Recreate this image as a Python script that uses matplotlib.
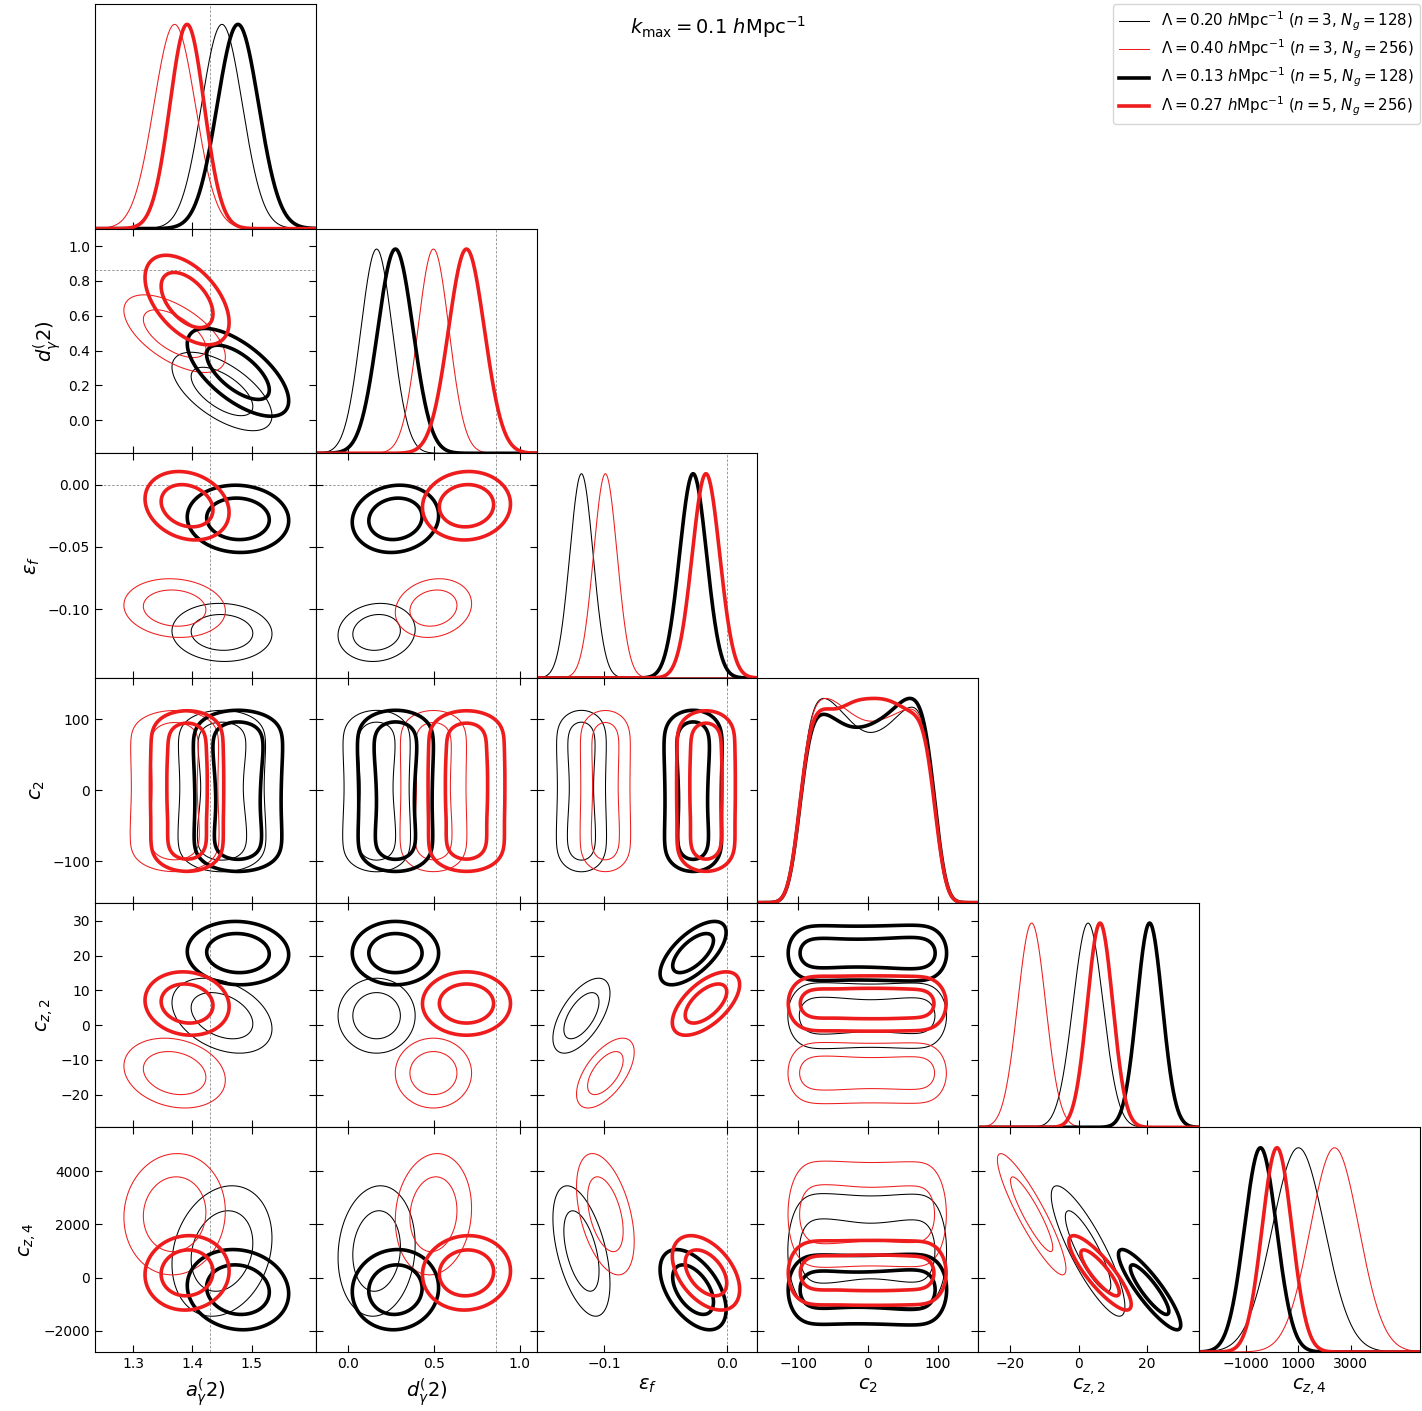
import numpy as np
import matplotlib
matplotlib.use("Agg")
import matplotlib.pyplot as plt

# --- Parameter (Reihenfolge der Achsen) ---
namen = ["a", "d", "eps", "c2", "cz2", "cz4"]
achsen_label = [r"$a_\gamma^(2)$", r"$d_\gamma^(2)$", r"$\varepsilon_f$",
                r"$c_2$", r"$c_{z,2}$", r"$c_{z,4}$"]
grenzen = [(1.2355, 1.6085), (-0.19, 1.10), (-0.155, 0.025),
           (-158, 158), (-29.4, 35.2), (-2790, 5640)]
x_ticks = [[1.3, 1.4, 1.5], [0.0, 0.5, 1.0], [-0.1, 0.0],
           [-100, 0, 100], [-20, 0, 20], [-1000, 1000, 3000]]
y_ticks = [None, [0.0, 0.2, 0.4, 0.6, 0.8, 1.0], [-0.10, -0.05, 0.00],
           [-100, 0, 100], [-20, -10, 0, 10, 20, 30], [-2000, 0, 2000, 4000]]
referenz = [1.43, 0.86, 0.0, None, None, None]

# --- Serien: duenn schwarz, duenn rot, dick schwarz, dick rot ---
serien_label = [
    r"$\Lambda = 0.20\ h\mathrm{Mpc}^{-1}$ ($n = 3$, $N_g = 128$)",
    r"$\Lambda = 0.40\ h\mathrm{Mpc}^{-1}$ ($n = 3$, $N_g = 256$)",
    r"$\Lambda = 0.13\ h\mathrm{Mpc}^{-1}$ ($n = 5$, $N_g = 128$)",
    r"$\Lambda = 0.27\ h\mathrm{Mpc}^{-1}$ ($n = 5$, $N_g = 256$)",
]
farben = ["black", "#ee1c1c", "black", "#ee1c1c"]
breiten = [0.75, 0.75, 2.6, 2.6]

# Mittelwerte und Breiten
mittel = {
    "a":   [1.450, 1.370, 1.477, 1.391],
    "d":   [0.165, 0.497, 0.275, 0.690],
    "eps": [-0.1185, -0.099, -0.0275, -0.017],
    "cz2": [2.7, -13.8, 20.7, 6.2],
    "cz4": [1000, 2380, -450, 180],
}
sigma = {
    "a":   [0.0345, 0.035, 0.035, 0.029],
    "d":   [0.092, 0.091, 0.103, 0.105],
    "eps": [0.0095, 0.0096, 0.011, 0.0112],
    "cz2": [4.4, 4.1, 3.72, 3.72],
    "cz4": [1000, 930, 615, 570],
}
korr = {
    ("a", "d"):     [-0.62, -0.60, -0.65, -0.50],
    ("a", "eps"):   [-0.05, -0.10, -0.05, -0.20],
    ("a", "cz2"):   [-0.35, -0.20, -0.05, -0.10],
    ("a", "cz4"):   [0.20, 0.05, -0.10, 0.05],
    ("d", "eps"):   [0.10, 0.15, 0.10, 0.05],
    ("d", "cz2"):   [0.00, 0.00, 0.00, 0.00],
    ("d", "cz4"):   [0.10, 0.10, 0.05, 0.05],
    ("eps", "cz2"): [0.60, 0.60, 0.65, 0.60],
    ("eps", "cz4"): [-0.50, -0.45, -0.50, -0.45],
    ("cz2", "cz4"): [-0.85, -0.90, -0.88, -0.85],
}

# c2: fast flache Verteilung mit Huegeln
c2_knoten = [-100, -65, -45, -25, 0, 30, 60, 100]
c2_hoehe = [
    [0.90, 1.00, 0.93, 0.85, 0.78, 0.83, 0.95, 0.90],
    [0.90, 1.00, 0.96, 0.90, 0.85, 0.88, 0.94, 0.90],
    [0.85, 0.92, 0.86, 0.82, 0.83, 0.89, 1.00, 0.90],
    [0.90, 0.97, 0.92, 0.99, 1.00, 1.00, 0.93, 0.90],
]
c2_rand = (-98, 96)
c2_weich = 13.0

# --- c2-Randverteilung glaetten ---
c2_gitter = np.linspace(-250, 250, 2501)
dx = c2_gitter[1] - c2_gitter[0]
kern_x = np.arange(-4 * c2_weich, 4 * c2_weich + dx, dx)
kern = np.exp(-0.5 * (kern_x / c2_weich) ** 2)
c2_dichte = []
for h in c2_hoehe:
    prof = np.interp(c2_gitter, c2_knoten, h)
    prof[(c2_gitter < c2_rand[0]) | (c2_gitter > c2_rand[1])] = 0
    f = np.convolve(prof, kern, mode="same")
    c2_dichte.append(f / f.max())


def marginal(p, s, werte):
    if p == "c2":
        return np.interp(werte, c2_gitter, c2_dichte[s])
    return np.exp(-0.5 * ((werte - mittel[p][s]) / sigma[p][s]) ** 2)


def dichte_2d(px, py, s, X, Y):
    if px == "c2" or py == "c2":
        return marginal(px, s, X) * marginal(py, s, Y)
    zx = (X - mittel[px][s]) / sigma[px][s]
    zy = (Y - mittel[py][s]) / sigma[py][s]
    r = korr[(px, py)][s]
    q = (zx ** 2 - 2 * r * zx * zy + zy ** 2) / (1 - r ** 2)
    return np.exp(-0.5 * q)


def niveaus(z):
    p = np.sort(z.ravel())[::-1]
    kum = np.cumsum(p) / p.sum()
    return [p[np.searchsorted(kum, 0.95)], p[np.searchsorted(kum, 0.68)]]


# --- Plot ---
n = len(namen)
fig, axes = plt.subplots(n, n, figsize=(14.22, 14.11), dpi=100)
fig.subplots_adjust(left=0.0668, right=0.9986, bottom=0.0418, top=0.9972,
                    wspace=0, hspace=0)

for r in range(n):
    for c in range(n):
        ax = axes[r, c]
        if c > r:
            ax.axis("off")
            continue
        px = namen[c]
        ax.set_xlim(grenzen[c])
        ax.set_xticks(x_ticks[c])
        if r == c:
            # 1D-Verteilung
            xs = np.linspace(grenzen[c][0], grenzen[c][1], 600)
            for s in range(4):
                ax.plot(xs, marginal(px, s, xs), color=farben[s], lw=breiten[s])
            ax.set_ylim(0, 1.1)
            ax.set_yticks([])
            ax.tick_params(direction="in", length=5, top=False, labelsize=10)
        else:
            py = namen[r]
            ax.set_ylim(grenzen[r])
            ax.set_yticks(y_ticks[r])
            xs = np.linspace(grenzen[c][0], grenzen[c][1], 300)
            ys = np.linspace(grenzen[r][0], grenzen[r][1], 300)
            X, Y = np.meshgrid(xs, ys)
            for s in range(4):
                Z = dichte_2d(px, py, s, X, Y)
                ax.contour(X, Y, Z, levels=niveaus(Z), colors=farben[s],
                           linewidths=breiten[s])
            ax.tick_params(direction="in", length=5, top=True, right=True,
                           labelsize=10)
            if referenz[r] is not None:
                ax.axhline(referenz[r], color="0.55", lw=0.6, ls=(0, (3, 2)),
                           zorder=0)
        if referenz[c] is not None:
            ax.axvline(referenz[c], color="0.55", lw=0.6, ls=(0, (3, 2)),
                       zorder=0)

        if r == n - 1:
            ax.set_xlabel(achsen_label[c], fontsize=14)
        else:
            ax.tick_params(labelbottom=False)
        if c == 0 and r > 0:
            ax.set_ylabel(achsen_label[r], fontsize=14)
        else:
            ax.tick_params(labelleft=False)

# Legende
for s in range(4):
    axes[0, 0].plot([], [], color=farben[s], lw=breiten[s], label=serien_label[s])
handles, labs = axes[0, 0].get_legend_handles_labels()
fig.legend(handles[-4:], labs[-4:], loc="upper right",
           bbox_to_anchor=(0.9986, 0.9972), fontsize=10.8, borderaxespad=0,
           labelspacing=0.32, handlelength=2.0)

fig.text(0.505, 0.981, r"$k_{\mathrm{max}} = 0.1\ h\mathrm{Mpc}^{-1}$",
         ha="center", va="center", fontsize=14)

fig.savefig("out.png", dpi=100)
